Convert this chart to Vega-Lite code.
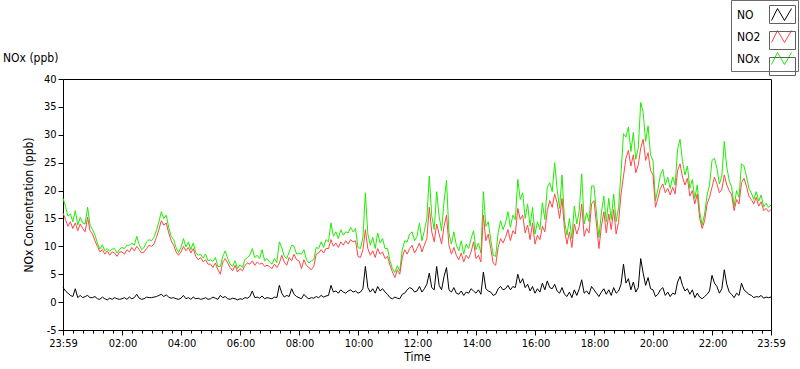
{
"$schema": "https://vega.github.io/schema/vega-lite/v6.json",
"width": 708, "height": 251,
"autosize": {"type": "none"},
"padding": {"left": 63, "top": 79, "right": 29, "bottom": 39},
"background": "white",
"config": {"view": {"stroke": "#000000", "strokeWidth": 1}, "font": "DejaVu Sans Condensed, DejaVu Sans, sans-serif"},
"title": {"text": "NOx (ppb)", "anchor": "start", "frame": "group", "dx": -60, "offset": -65, "fontSize": 12, "fontWeight": "normal", "color": "#000000"},
"layer": [
{
"data": {"values": [
{"t":"2024-01-01T23:59","NO2":16.0,"NO":2.6,"NOx":18.6},
{"t":"2024-01-02T00:04","NO2":14.8,"NO":2.0,"NOx":17.2},
{"t":"2024-01-02T00:09","NO2":13.6,"NO":1.6,"NOx":15.4},
{"t":"2024-01-02T00:14","NO2":14.4,"NO":1.2,"NOx":15.8},
{"t":"2024-01-02T00:19","NO2":13.2,"NO":1.0,"NOx":14.4},
{"t":"2024-01-02T00:24","NO2":14.2,"NO":2.4,"NOx":16.4},
{"t":"2024-01-02T00:29","NO2":12.8,"NO":0.8,"NOx":13.8},
{"t":"2024-01-02T00:34","NO2":14.0,"NO":1.2,"NOx":15.2},
{"t":"2024-01-02T00:39","NO2":13.2,"NO":0.8,"NOx":14.2},
{"t":"2024-01-02T00:44","NO2":12.6,"NO":1.0,"NOx":14.0},
{"t":"2024-01-02T00:49","NO2":15.2,"NO":1.2,"NOx":17.0},
{"t":"2024-01-02T00:54","NO2":12.8,"NO":0.8,"NOx":13.8},
{"t":"2024-01-02T00:59","NO2":12.2,"NO":0.8,"NOx":13.0},
{"t":"2024-01-02T01:04","NO2":11.0,"NO":1.0,"NOx":12.0},
{"t":"2024-01-02T01:09","NO2":10.0,"NO":0.6,"NOx":10.6},
{"t":"2024-01-02T01:14","NO2":9.0,"NO":0.5,"NOx":9.5},
{"t":"2024-01-02T01:19","NO2":9.4,"NO":0.9,"NOx":10.3},
{"t":"2024-01-02T01:24","NO2":8.6,"NO":0.6,"NOx":9.2},
{"t":"2024-01-02T01:29","NO2":9.2,"NO":0.4,"NOx":9.6},
{"t":"2024-01-02T01:34","NO2":8.4,"NO":0.7,"NOx":9.1},
{"t":"2024-01-02T01:39","NO2":9.0,"NO":0.5,"NOx":9.5},
{"t":"2024-01-02T01:44","NO2":8.8,"NO":0.8,"NOx":9.6},
{"t":"2024-01-02T01:49","NO2":8.2,"NO":0.6,"NOx":8.8},
{"t":"2024-01-02T01:54","NO2":9.0,"NO":0.5,"NOx":9.5},
{"t":"2024-01-02T01:59","NO2":9.0,"NO":0.6,"NOx":9.8},
{"t":"2024-01-02T02:04","NO2":8.6,"NO":0.8,"NOx":9.6},
{"t":"2024-01-02T02:09","NO2":9.4,"NO":0.5,"NOx":10.2},
{"t":"2024-01-02T02:14","NO2":9.0,"NO":0.9,"NOx":10.2},
{"t":"2024-01-02T02:19","NO2":9.8,"NO":0.6,"NOx":10.6},
{"t":"2024-01-02T02:24","NO2":9.2,"NO":0.8,"NOx":10.2},
{"t":"2024-01-02T02:29","NO2":10.0,"NO":1.4,"NOx":11.8},
{"t":"2024-01-02T02:34","NO2":9.4,"NO":0.7,"NOx":10.3},
{"t":"2024-01-02T02:39","NO2":8.8,"NO":0.5,"NOx":9.4},
{"t":"2024-01-02T02:44","NO2":9.0,"NO":0.6,"NOx":9.8},
{"t":"2024-01-02T02:49","NO2":9.6,"NO":0.9,"NOx":10.8},
{"t":"2024-01-02T02:54","NO2":10.2,"NO":0.8,"NOx":11.2},
{"t":"2024-01-02T02:59","NO2":10.0,"NO":0.8,"NOx":11.0},
{"t":"2024-01-02T03:04","NO2":10.4,"NO":0.9,"NOx":11.6},
{"t":"2024-01-02T03:09","NO2":11.6,"NO":1.0,"NOx":12.8},
{"t":"2024-01-02T03:14","NO2":13.0,"NO":1.2,"NOx":14.4},
{"t":"2024-01-02T03:19","NO2":14.6,"NO":1.4,"NOx":16.2},
{"t":"2024-01-02T03:24","NO2":13.8,"NO":1.0,"NOx":15.0},
{"t":"2024-01-02T03:29","NO2":14.2,"NO":1.3,"NOx":15.6},
{"t":"2024-01-02T03:34","NO2":12.4,"NO":0.9,"NOx":13.4},
{"t":"2024-01-02T03:39","NO2":11.0,"NO":0.7,"NOx":11.8},
{"t":"2024-01-02T03:44","NO2":10.2,"NO":0.8,"NOx":11.2},
{"t":"2024-01-02T03:49","NO2":9.0,"NO":0.6,"NOx":9.8},
{"t":"2024-01-02T03:54","NO2":8.4,"NO":0.5,"NOx":8.9},
{"t":"2024-01-02T03:59","NO2":9.0,"NO":0.7,"NOx":9.8},
{"t":"2024-01-02T04:04","NO2":10.0,"NO":1.2,"NOx":11.4},
{"t":"2024-01-02T04:09","NO2":9.2,"NO":0.6,"NOx":9.9},
{"t":"2024-01-02T04:14","NO2":9.8,"NO":0.8,"NOx":10.8},
{"t":"2024-01-02T04:19","NO2":8.8,"NO":0.5,"NOx":9.4},
{"t":"2024-01-02T04:24","NO2":9.6,"NO":0.9,"NOx":10.6},
{"t":"2024-01-02T04:29","NO2":8.2,"NO":0.6,"NOx":8.9},
{"t":"2024-01-02T04:34","NO2":7.6,"NO":0.7,"NOx":8.4},
{"t":"2024-01-02T04:39","NO2":8.0,"NO":0.5,"NOx":8.6},
{"t":"2024-01-02T04:44","NO2":7.2,"NO":0.6,"NOx":7.9},
{"t":"2024-01-02T04:49","NO2":7.6,"NO":0.8,"NOx":8.6},
{"t":"2024-01-02T04:54","NO2":6.8,"NO":0.5,"NOx":7.4},
{"t":"2024-01-02T04:59","NO2":6.8,"NO":0.6,"NOx":7.6},
{"t":"2024-01-02T05:04","NO2":6.2,"NO":0.9,"NOx":7.3},
{"t":"2024-01-02T05:09","NO2":7.0,"NO":0.7,"NOx":8.0},
{"t":"2024-01-02T05:14","NO2":5.8,"NO":0.5,"NOx":6.4},
{"t":"2024-01-02T05:19","NO2":5.0,"NO":1.2,"NOx":6.4},
{"t":"2024-01-02T05:24","NO2":7.2,"NO":0.8,"NOx":8.2},
{"t":"2024-01-02T05:29","NO2":7.8,"NO":1.0,"NOx":9.2},
{"t":"2024-01-02T05:34","NO2":7.0,"NO":0.6,"NOx":7.8},
{"t":"2024-01-02T05:39","NO2":6.2,"NO":0.5,"NOx":6.8},
{"t":"2024-01-02T05:44","NO2":5.6,"NO":0.7,"NOx":6.4},
{"t":"2024-01-02T05:49","NO2":6.6,"NO":0.6,"NOx":7.4},
{"t":"2024-01-02T05:54","NO2":5.4,"NO":0.4,"NOx":6.0},
{"t":"2024-01-02T05:59","NO2":6.0,"NO":0.6,"NOx":6.7},
{"t":"2024-01-02T06:04","NO2":5.6,"NO":0.5,"NOx":6.2},
{"t":"2024-01-02T06:09","NO2":6.6,"NO":0.8,"NOx":7.6},
{"t":"2024-01-02T06:14","NO2":7.0,"NO":0.7,"NOx":8.0},
{"t":"2024-01-02T06:19","NO2":6.8,"NO":1.0,"NOx":8.4},
{"t":"2024-01-02T06:24","NO2":7.4,"NO":2.0,"NOx":9.6},
{"t":"2024-01-02T06:29","NO2":6.6,"NO":0.8,"NOx":8.0},
{"t":"2024-01-02T06:34","NO2":7.2,"NO":0.9,"NOx":8.4},
{"t":"2024-01-02T06:39","NO2":6.8,"NO":0.7,"NOx":7.8},
{"t":"2024-01-02T06:44","NO2":7.0,"NO":1.1,"NOx":9.4},
{"t":"2024-01-02T06:49","NO2":6.4,"NO":0.6,"NOx":7.4},
{"t":"2024-01-02T06:54","NO2":6.6,"NO":0.8,"NOx":7.8},
{"t":"2024-01-02T06:59","NO2":6.4,"NO":0.7,"NOx":7.2},
{"t":"2024-01-02T07:04","NO2":6.0,"NO":0.6,"NOx":6.8},
{"t":"2024-01-02T07:09","NO2":6.8,"NO":0.9,"NOx":7.8},
{"t":"2024-01-02T07:14","NO2":6.2,"NO":0.8,"NOx":7.1},
{"t":"2024-01-02T07:19","NO2":7.0,"NO":3.0,"NOx":10.8},
{"t":"2024-01-02T07:24","NO2":8.4,"NO":1.6,"NOx":9.8},
{"t":"2024-01-02T07:29","NO2":7.2,"NO":0.9,"NOx":8.2},
{"t":"2024-01-02T07:34","NO2":6.6,"NO":1.2,"NOx":7.8},
{"t":"2024-01-02T07:39","NO2":8.0,"NO":1.0,"NOx":9.0},
{"t":"2024-01-02T07:44","NO2":7.4,"NO":2.4,"NOx":10.2},
{"t":"2024-01-02T07:49","NO2":8.6,"NO":1.4,"NOx":10.0},
{"t":"2024-01-02T07:54","NO2":7.6,"NO":1.0,"NOx":8.6},
{"t":"2024-01-02T07:59","NO2":7.4,"NO":0.8,"NOx":8.8},
{"t":"2024-01-02T08:04","NO2":6.0,"NO":0.6,"NOx":8.6},
{"t":"2024-01-02T08:09","NO2":7.6,"NO":1.4,"NOx":9.4},
{"t":"2024-01-02T08:14","NO2":6.6,"NO":0.9,"NOx":7.6},
{"t":"2024-01-02T08:19","NO2":6.2,"NO":0.6,"NOx":7.0},
{"t":"2024-01-02T08:24","NO2":5.8,"NO":0.8,"NOx":7.4},
{"t":"2024-01-02T08:29","NO2":6.4,"NO":0.7,"NOx":7.6},
{"t":"2024-01-02T08:34","NO2":8.6,"NO":1.0,"NOx":9.8},
{"t":"2024-01-02T08:39","NO2":8.8,"NO":0.8,"NOx":9.6},
{"t":"2024-01-02T08:44","NO2":9.4,"NO":1.2,"NOx":10.8},
{"t":"2024-01-02T08:49","NO2":8.8,"NO":0.9,"NOx":9.8},
{"t":"2024-01-02T08:54","NO2":9.6,"NO":1.1,"NOx":11.2},
{"t":"2024-01-02T08:59","NO2":9.6,"NO":1.2,"NOx":10.8},
{"t":"2024-01-02T09:04","NO2":11.2,"NO":3.0,"NOx":14.2},
{"t":"2024-01-02T09:09","NO2":10.0,"NO":1.8,"NOx":11.8},
{"t":"2024-01-02T09:14","NO2":10.6,"NO":2.0,"NOx":12.6},
{"t":"2024-01-02T09:19","NO2":9.8,"NO":1.6,"NOx":11.4},
{"t":"2024-01-02T09:24","NO2":10.8,"NO":2.2,"NOx":13.0},
{"t":"2024-01-02T09:29","NO2":10.2,"NO":1.8,"NOx":12.0},
{"t":"2024-01-02T09:34","NO2":11.0,"NO":1.6,"NOx":12.6},
{"t":"2024-01-02T09:39","NO2":10.4,"NO":2.0,"NOx":12.4},
{"t":"2024-01-02T09:44","NO2":11.2,"NO":2.2,"NOx":13.4},
{"t":"2024-01-02T09:49","NO2":10.8,"NO":1.8,"NOx":12.6},
{"t":"2024-01-02T09:54","NO2":11.0,"NO":2.0,"NOx":13.2},
{"t":"2024-01-02T09:59","NO2":8.2,"NO":1.6,"NOx":9.8},
{"t":"2024-01-02T10:04","NO2":8.0,"NO":1.8,"NOx":9.6},
{"t":"2024-01-02T10:09","NO2":9.4,"NO":2.4,"NOx":11.6},
{"t":"2024-01-02T10:14","NO2":13.0,"NO":6.4,"NOx":19.6},
{"t":"2024-01-02T10:19","NO2":9.6,"NO":2.6,"NOx":12.2},
{"t":"2024-01-02T10:24","NO2":8.4,"NO":1.8,"NOx":10.2},
{"t":"2024-01-02T10:29","NO2":9.2,"NO":2.4,"NOx":11.6},
{"t":"2024-01-02T10:34","NO2":8.0,"NO":1.6,"NOx":9.6},
{"t":"2024-01-02T10:39","NO2":9.6,"NO":2.8,"NOx":12.4},
{"t":"2024-01-02T10:44","NO2":8.6,"NO":2.0,"NOx":10.6},
{"t":"2024-01-02T10:49","NO2":9.0,"NO":2.4,"NOx":11.4},
{"t":"2024-01-02T10:54","NO2":7.8,"NO":1.8,"NOx":9.6},
{"t":"2024-01-02T10:59","NO2":8.2,"NO":1.4,"NOx":9.6},
{"t":"2024-01-02T11:04","NO2":6.6,"NO":0.8,"NOx":7.4},
{"t":"2024-01-02T11:09","NO2":5.4,"NO":0.6,"NOx":6.0},
{"t":"2024-01-02T11:14","NO2":4.4,"NO":0.9,"NOx":5.3},
{"t":"2024-01-02T11:19","NO2":5.8,"NO":0.7,"NOx":6.5},
{"t":"2024-01-02T11:24","NO2":5.0,"NO":0.6,"NOx":5.6},
{"t":"2024-01-02T11:29","NO2":8.0,"NO":1.4,"NOx":9.4},
{"t":"2024-01-02T11:34","NO2":9.4,"NO":1.6,"NOx":11.0},
{"t":"2024-01-02T11:39","NO2":8.6,"NO":2.2,"NOx":10.8},
{"t":"2024-01-02T11:44","NO2":9.6,"NO":2.6,"NOx":12.2},
{"t":"2024-01-02T11:49","NO2":10.2,"NO":2.4,"NOx":12.6},
{"t":"2024-01-02T11:54","NO2":8.8,"NO":1.8,"NOx":11.0},
{"t":"2024-01-02T11:59","NO2":9.6,"NO":2.0,"NOx":11.8},
{"t":"2024-01-02T12:04","NO2":10.6,"NO":2.8,"NOx":14.2},
{"t":"2024-01-02T12:09","NO2":9.0,"NO":1.8,"NOx":11.0},
{"t":"2024-01-02T12:14","NO2":10.2,"NO":2.4,"NOx":12.8},
{"t":"2024-01-02T12:19","NO2":11.4,"NO":3.2,"NOx":15.0},
{"t":"2024-01-02T12:24","NO2":17.0,"NO":5.2,"NOx":22.6},
{"t":"2024-01-02T12:29","NO2":12.6,"NO":2.6,"NOx":15.4},
{"t":"2024-01-02T12:34","NO2":10.8,"NO":2.2,"NOx":13.0},
{"t":"2024-01-02T12:39","NO2":14.0,"NO":6.4,"NOx":19.8},
{"t":"2024-01-02T12:44","NO2":12.2,"NO":3.0,"NOx":15.4},
{"t":"2024-01-02T12:49","NO2":10.4,"NO":2.2,"NOx":12.8},
{"t":"2024-01-02T12:54","NO2":13.6,"NO":4.6,"NOx":18.0},
{"t":"2024-01-02T12:59","NO2":15.6,"NO":6.2,"NOx":21.8},
{"t":"2024-01-02T13:04","NO2":10.2,"NO":2.2,"NOx":12.4},
{"t":"2024-01-02T13:09","NO2":8.6,"NO":1.8,"NOx":10.4},
{"t":"2024-01-02T13:14","NO2":9.8,"NO":2.6,"NOx":12.6},
{"t":"2024-01-02T13:19","NO2":8.4,"NO":1.6,"NOx":10.2},
{"t":"2024-01-02T13:24","NO2":7.6,"NO":1.4,"NOx":9.2},
{"t":"2024-01-02T13:29","NO2":8.8,"NO":2.0,"NOx":11.0},
{"t":"2024-01-02T13:34","NO2":7.2,"NO":1.2,"NOx":8.6},
{"t":"2024-01-02T13:39","NO2":8.4,"NO":1.8,"NOx":10.4},
{"t":"2024-01-02T13:44","NO2":7.8,"NO":1.6,"NOx":9.6},
{"t":"2024-01-02T13:49","NO2":9.0,"NO":2.4,"NOx":11.4},
{"t":"2024-01-02T13:54","NO2":10.8,"NO":2.0,"NOx":12.8},
{"t":"2024-01-02T13:59","NO2":7.8,"NO":1.6,"NOx":9.4},
{"t":"2024-01-02T14:04","NO2":8.4,"NO":2.2,"NOx":10.6},
{"t":"2024-01-02T14:09","NO2":7.2,"NO":1.4,"NOx":8.8},
{"t":"2024-01-02T14:14","NO2":15.6,"NO":5.4,"NOx":19.8},
{"t":"2024-01-02T14:19","NO2":11.0,"NO":2.4,"NOx":13.6},
{"t":"2024-01-02T14:24","NO2":12.2,"NO":2.0,"NOx":14.4},
{"t":"2024-01-02T14:29","NO2":9.6,"NO":1.8,"NOx":11.2},
{"t":"2024-01-02T14:34","NO2":7.0,"NO":1.2,"NOx":8.4},
{"t":"2024-01-02T14:39","NO2":6.6,"NO":1.4,"NOx":8.2},
{"t":"2024-01-02T14:44","NO2":9.8,"NO":2.4,"NOx":12.4},
{"t":"2024-01-02T14:49","NO2":11.4,"NO":2.8,"NOx":14.6},
{"t":"2024-01-02T14:54","NO2":10.6,"NO":2.2,"NOx":13.0},
{"t":"2024-01-02T14:59","NO2":11.6,"NO":2.4,"NOx":14.2},
{"t":"2024-01-02T15:04","NO2":13.0,"NO":3.0,"NOx":16.2},
{"t":"2024-01-02T15:09","NO2":11.0,"NO":2.2,"NOx":13.4},
{"t":"2024-01-02T15:14","NO2":12.8,"NO":2.8,"NOx":15.6},
{"t":"2024-01-02T15:19","NO2":12.2,"NO":2.6,"NOx":14.8},
{"t":"2024-01-02T15:24","NO2":16.8,"NO":5.0,"NOx":22.0},
{"t":"2024-01-02T15:29","NO2":14.8,"NO":3.4,"NOx":18.4},
{"t":"2024-01-02T15:34","NO2":15.6,"NO":4.2,"NOx":19.6},
{"t":"2024-01-02T15:39","NO2":12.4,"NO":2.6,"NOx":15.0},
{"t":"2024-01-02T15:44","NO2":13.8,"NO":3.2,"NOx":17.6},
{"t":"2024-01-02T15:49","NO2":11.2,"NO":2.0,"NOx":13.6},
{"t":"2024-01-02T15:54","NO2":14.2,"NO":2.8,"NOx":17.0},
{"t":"2024-01-02T15:59","NO2":10.4,"NO":1.6,"NOx":12.2},
{"t":"2024-01-02T16:04","NO2":12.0,"NO":2.4,"NOx":14.4},
{"t":"2024-01-02T16:09","NO2":11.2,"NO":1.8,"NOx":13.0},
{"t":"2024-01-02T16:14","NO2":13.6,"NO":3.4,"NOx":17.8},
{"t":"2024-01-02T16:19","NO2":12.6,"NO":2.2,"NOx":14.8},
{"t":"2024-01-02T16:24","NO2":16.4,"NO":3.8,"NOx":20.6},
{"t":"2024-01-02T16:29","NO2":18.2,"NO":2.6,"NOx":21.4},
{"t":"2024-01-02T16:34","NO2":17.0,"NO":2.4,"NOx":19.8},
{"t":"2024-01-02T16:39","NO2":19.4,"NO":3.2,"NOx":25.0},
{"t":"2024-01-02T16:44","NO2":17.8,"NO":2.0,"NOx":20.2},
{"t":"2024-01-02T16:49","NO2":15.0,"NO":1.6,"NOx":16.8},
{"t":"2024-01-02T16:54","NO2":18.6,"NO":2.6,"NOx":22.8},
{"t":"2024-01-02T16:59","NO2":13.0,"NO":1.4,"NOx":14.6},
{"t":"2024-01-02T17:04","NO2":10.4,"NO":1.0,"NOx":12.0},
{"t":"2024-01-02T17:09","NO2":12.6,"NO":1.8,"NOx":15.0},
{"t":"2024-01-02T17:14","NO2":9.8,"NO":0.8,"NOx":11.4},
{"t":"2024-01-02T17:19","NO2":14.0,"NO":2.2,"NOx":17.2},
{"t":"2024-01-02T17:24","NO2":12.2,"NO":1.2,"NOx":14.0},
{"t":"2024-01-02T17:29","NO2":13.6,"NO":2.4,"NOx":16.4},
{"t":"2024-01-02T17:34","NO2":17.6,"NO":4.0,"NOx":23.0},
{"t":"2024-01-02T17:39","NO2":11.8,"NO":1.6,"NOx":14.0},
{"t":"2024-01-02T17:44","NO2":13.2,"NO":2.0,"NOx":16.0},
{"t":"2024-01-02T17:49","NO2":12.4,"NO":1.4,"NOx":14.4},
{"t":"2024-01-02T17:54","NO2":17.6,"NO":2.8,"NOx":20.8},
{"t":"2024-01-02T17:59","NO2":18.2,"NO":2.2,"NOx":20.8},
{"t":"2024-01-02T18:04","NO2":14.0,"NO":1.6,"NOx":16.0},
{"t":"2024-01-02T18:09","NO2":9.6,"NO":1.0,"NOx":11.6},
{"t":"2024-01-02T18:14","NO2":13.6,"NO":1.8,"NOx":16.0},
{"t":"2024-01-02T18:19","NO2":16.2,"NO":2.4,"NOx":19.0},
{"t":"2024-01-02T18:24","NO2":12.4,"NO":1.4,"NOx":14.4},
{"t":"2024-01-02T18:29","NO2":15.8,"NO":2.2,"NOx":18.6},
{"t":"2024-01-02T18:34","NO2":13.0,"NO":1.2,"NOx":14.8},
{"t":"2024-01-02T18:39","NO2":16.6,"NO":2.6,"NOx":19.4},
{"t":"2024-01-02T18:44","NO2":12.2,"NO":1.6,"NOx":14.4},
{"t":"2024-01-02T18:49","NO2":14.4,"NO":2.0,"NOx":17.0},
{"t":"2024-01-02T18:54","NO2":19.4,"NO":3.2,"NOx":23.2},
{"t":"2024-01-02T18:59","NO2":22.6,"NO":6.8,"NOx":30.2},
{"t":"2024-01-02T19:04","NO2":25.8,"NO":3.4,"NOx":29.6},
{"t":"2024-01-02T19:09","NO2":27.2,"NO":4.2,"NOx":31.4},
{"t":"2024-01-02T19:14","NO2":24.4,"NO":2.2,"NOx":27.0},
{"t":"2024-01-02T19:19","NO2":26.4,"NO":3.6,"NOx":30.4},
{"t":"2024-01-02T19:24","NO2":23.2,"NO":1.8,"NOx":25.6},
{"t":"2024-01-02T19:29","NO2":24.6,"NO":2.6,"NOx":27.6},
{"t":"2024-01-02T19:34","NO2":27.6,"NO":7.8,"NOx":35.8},
{"t":"2024-01-02T19:39","NO2":29.2,"NO":5.2,"NOx":34.0},
{"t":"2024-01-02T19:44","NO2":25.4,"NO":3.0,"NOx":28.8},
{"t":"2024-01-02T19:49","NO2":26.8,"NO":4.4,"NOx":31.6},
{"t":"2024-01-02T19:54","NO2":23.6,"NO":2.4,"NOx":26.4},
{"t":"2024-01-02T19:59","NO2":22.8,"NO":2.2,"NOx":25.4},
{"t":"2024-01-02T20:04","NO2":17.0,"NO":1.0,"NOx":18.2},
{"t":"2024-01-02T20:09","NO2":18.6,"NO":1.4,"NOx":20.2},
{"t":"2024-01-02T20:14","NO2":20.4,"NO":2.2,"NOx":22.8},
{"t":"2024-01-02T20:19","NO2":21.2,"NO":2.6,"NOx":23.8},
{"t":"2024-01-02T20:24","NO2":19.6,"NO":1.2,"NOx":21.0},
{"t":"2024-01-02T20:29","NO2":20.4,"NO":1.8,"NOx":22.4},
{"t":"2024-01-02T20:34","NO2":19.2,"NO":1.0,"NOx":20.4},
{"t":"2024-01-02T20:39","NO2":20.6,"NO":1.6,"NOx":22.4},
{"t":"2024-01-02T20:44","NO2":19.4,"NO":1.4,"NOx":21.0},
{"t":"2024-01-02T20:49","NO2":23.6,"NO":3.6,"NOx":27.4},
{"t":"2024-01-02T20:54","NO2":24.8,"NO":4.6,"NOx":29.2},
{"t":"2024-01-02T20:59","NO2":22.4,"NO":3.0,"NOx":25.2},
{"t":"2024-01-02T21:04","NO2":21.0,"NO":2.0,"NOx":22.8},
{"t":"2024-01-02T21:09","NO2":22.2,"NO":2.4,"NOx":24.4},
{"t":"2024-01-02T21:14","NO2":19.0,"NO":1.4,"NOx":20.4},
{"t":"2024-01-02T21:19","NO2":20.0,"NO":2.2,"NOx":22.0},
{"t":"2024-01-02T21:24","NO2":17.6,"NO":0.8,"NOx":18.6},
{"t":"2024-01-02T21:29","NO2":19.4,"NO":1.6,"NOx":21.0},
{"t":"2024-01-02T21:34","NO2":15.0,"NO":0.9,"NOx":16.2},
{"t":"2024-01-02T21:39","NO2":13.2,"NO":0.6,"NOx":13.8},
{"t":"2024-01-02T21:44","NO2":14.6,"NO":1.0,"NOx":15.8},
{"t":"2024-01-02T21:49","NO2":17.6,"NO":1.4,"NOx":19.2},
{"t":"2024-01-02T21:54","NO2":18.8,"NO":2.0,"NOx":21.0},
{"t":"2024-01-02T21:59","NO2":20.6,"NO":4.8,"NOx":25.4},
{"t":"2024-01-02T22:04","NO2":22.4,"NO":3.4,"NOx":25.8},
{"t":"2024-01-02T22:09","NO2":21.2,"NO":2.8,"NOx":24.0},
{"t":"2024-01-02T22:14","NO2":19.6,"NO":1.6,"NOx":21.2},
{"t":"2024-01-02T22:19","NO2":20.2,"NO":2.4,"NOx":22.6},
{"t":"2024-01-02T22:24","NO2":22.8,"NO":5.8,"NOx":28.8},
{"t":"2024-01-02T22:29","NO2":21.0,"NO":3.2,"NOx":24.2},
{"t":"2024-01-02T22:34","NO2":20.0,"NO":1.8,"NOx":21.8},
{"t":"2024-01-02T22:39","NO2":19.2,"NO":1.4,"NOx":20.6},
{"t":"2024-01-02T22:44","NO2":16.4,"NO":0.8,"NOx":17.2},
{"t":"2024-01-02T22:49","NO2":18.4,"NO":1.6,"NOx":20.0},
{"t":"2024-01-02T22:54","NO2":17.6,"NO":1.2,"NOx":18.8},
{"t":"2024-01-02T22:59","NO2":21.4,"NO":3.4,"NOx":24.8},
{"t":"2024-01-02T23:04","NO2":22.2,"NO":2.2,"NOx":24.4},
{"t":"2024-01-02T23:09","NO2":20.8,"NO":1.8,"NOx":22.6},
{"t":"2024-01-02T23:14","NO2":19.0,"NO":1.4,"NOx":20.4},
{"t":"2024-01-02T23:19","NO2":18.4,"NO":1.2,"NOx":19.6},
{"t":"2024-01-02T23:24","NO2":17.6,"NO":0.8,"NOx":18.4},
{"t":"2024-01-02T23:29","NO2":18.8,"NO":1.0,"NOx":19.8},
{"t":"2024-01-02T23:34","NO2":17.2,"NO":0.9,"NOx":18.1},
{"t":"2024-01-02T23:39","NO2":18.0,"NO":1.2,"NOx":19.2},
{"t":"2024-01-02T23:44","NO2":16.4,"NO":0.7,"NOx":17.1},
{"t":"2024-01-02T23:49","NO2":16.8,"NO":0.9,"NOx":17.7},
{"t":"2024-01-02T23:54","NO2":16.2,"NO":0.8,"NOx":17.0},
{"t":"2024-01-02T23:59","NO2":16.6,"NO":0.9,"NOx":17.4}
]},
"transform": [{"fold": ["NOx", "NO2", "NO"], "as": ["series", "value"]}],
"mark": {"type": "line", "strokeWidth": 1},
"encoding": {
"x": {"field": "t", "type": "temporal",
 "scale": {"domain": [{"year": 2024, "month": 1, "date": 1, "hours": 23, "minutes": 59}, {"year": 2024, "month": 1, "date": 2, "hours": 23, "minutes": 59}], "nice": false},
 "axis": {"orient": "bottom",
  "values": [
{"year":2024,"month":1,"date":1,"hours":23,"minutes":59},
{"year":2024,"month":1,"date":2,"hours":0,"minutes":20},{"year":2024,"month":1,"date":2,"hours":0,"minutes":40},
{"year":2024,"month":1,"date":2,"hours":1,"minutes":0},{"year":2024,"month":1,"date":2,"hours":1,"minutes":20},{"year":2024,"month":1,"date":2,"hours":1,"minutes":40},
{"year":2024,"month":1,"date":2,"hours":2,"minutes":0},{"year":2024,"month":1,"date":2,"hours":2,"minutes":20},{"year":2024,"month":1,"date":2,"hours":2,"minutes":40},
{"year":2024,"month":1,"date":2,"hours":3,"minutes":0},{"year":2024,"month":1,"date":2,"hours":3,"minutes":20},{"year":2024,"month":1,"date":2,"hours":3,"minutes":40},
{"year":2024,"month":1,"date":2,"hours":4,"minutes":0},{"year":2024,"month":1,"date":2,"hours":4,"minutes":20},{"year":2024,"month":1,"date":2,"hours":4,"minutes":40},
{"year":2024,"month":1,"date":2,"hours":5,"minutes":0},{"year":2024,"month":1,"date":2,"hours":5,"minutes":20},{"year":2024,"month":1,"date":2,"hours":5,"minutes":40},
{"year":2024,"month":1,"date":2,"hours":6,"minutes":0},{"year":2024,"month":1,"date":2,"hours":6,"minutes":20},{"year":2024,"month":1,"date":2,"hours":6,"minutes":40},
{"year":2024,"month":1,"date":2,"hours":7,"minutes":0},{"year":2024,"month":1,"date":2,"hours":7,"minutes":20},{"year":2024,"month":1,"date":2,"hours":7,"minutes":40},
{"year":2024,"month":1,"date":2,"hours":8,"minutes":0},{"year":2024,"month":1,"date":2,"hours":8,"minutes":20},{"year":2024,"month":1,"date":2,"hours":8,"minutes":40},
{"year":2024,"month":1,"date":2,"hours":9,"minutes":0},{"year":2024,"month":1,"date":2,"hours":9,"minutes":20},{"year":2024,"month":1,"date":2,"hours":9,"minutes":40},
{"year":2024,"month":1,"date":2,"hours":10,"minutes":0},{"year":2024,"month":1,"date":2,"hours":10,"minutes":20},{"year":2024,"month":1,"date":2,"hours":10,"minutes":40},
{"year":2024,"month":1,"date":2,"hours":11,"minutes":0},{"year":2024,"month":1,"date":2,"hours":11,"minutes":20},{"year":2024,"month":1,"date":2,"hours":11,"minutes":40},
{"year":2024,"month":1,"date":2,"hours":12,"minutes":0},{"year":2024,"month":1,"date":2,"hours":12,"minutes":20},{"year":2024,"month":1,"date":2,"hours":12,"minutes":40},
{"year":2024,"month":1,"date":2,"hours":13,"minutes":0},{"year":2024,"month":1,"date":2,"hours":13,"minutes":20},{"year":2024,"month":1,"date":2,"hours":13,"minutes":40},
{"year":2024,"month":1,"date":2,"hours":14,"minutes":0},{"year":2024,"month":1,"date":2,"hours":14,"minutes":20},{"year":2024,"month":1,"date":2,"hours":14,"minutes":40},
{"year":2024,"month":1,"date":2,"hours":15,"minutes":0},{"year":2024,"month":1,"date":2,"hours":15,"minutes":20},{"year":2024,"month":1,"date":2,"hours":15,"minutes":40},
{"year":2024,"month":1,"date":2,"hours":16,"minutes":0},{"year":2024,"month":1,"date":2,"hours":16,"minutes":20},{"year":2024,"month":1,"date":2,"hours":16,"minutes":40},
{"year":2024,"month":1,"date":2,"hours":17,"minutes":0},{"year":2024,"month":1,"date":2,"hours":17,"minutes":20},{"year":2024,"month":1,"date":2,"hours":17,"minutes":40},
{"year":2024,"month":1,"date":2,"hours":18,"minutes":0},{"year":2024,"month":1,"date":2,"hours":18,"minutes":20},{"year":2024,"month":1,"date":2,"hours":18,"minutes":40},
{"year":2024,"month":1,"date":2,"hours":19,"minutes":0},{"year":2024,"month":1,"date":2,"hours":19,"minutes":20},{"year":2024,"month":1,"date":2,"hours":19,"minutes":40},
{"year":2024,"month":1,"date":2,"hours":20,"minutes":0},{"year":2024,"month":1,"date":2,"hours":20,"minutes":20},{"year":2024,"month":1,"date":2,"hours":20,"minutes":40},
{"year":2024,"month":1,"date":2,"hours":21,"minutes":0},{"year":2024,"month":1,"date":2,"hours":21,"minutes":20},{"year":2024,"month":1,"date":2,"hours":21,"minutes":40},
{"year":2024,"month":1,"date":2,"hours":22,"minutes":0},{"year":2024,"month":1,"date":2,"hours":22,"minutes":20},{"year":2024,"month":1,"date":2,"hours":22,"minutes":40},
{"year":2024,"month":1,"date":2,"hours":23,"minutes":0},{"year":2024,"month":1,"date":2,"hours":23,"minutes":20},{"year":2024,"month":1,"date":2,"hours":23,"minutes":40},
{"year":2024,"month":1,"date":2,"hours":23,"minutes":59}],
  "labelExpr": "minutes(datum.value) == 59 ? '23:59' : (minutes(datum.value) == 0 && hours(datum.value) % 2 == 0 ? timeFormat(datum.value, '%H:%M') : '')",
  "labelFlush": false, "labelOverlap": false, "grid": false,
  "tickSize": {"condition": {"test": "minutes(datum.value) == 59 || (minutes(datum.value) == 0 && hours(datum.value) % 2 == 0)", "value": 5}, "value": 3},
  "tickColor": "#000000", "domainColor": "#000000",
  "labelFontSize": 11, "labelColor": "#000000", "labelPadding": 2,
  "title": "Time", "titleFontSize": 12, "titleFontWeight": "normal", "titleColor": "#000000", "titlePadding": 3}},
"y": {"field": "value", "type": "quantitative",
 "scale": {"domain": [-5, 40], "nice": false, "zero": false},
 "axis": {"values": [-5, 0, 5, 10, 15, 20, 25, 30, 35, 40], "grid": false,
  "tickSize": 5, "tickColor": "#000000", "domainColor": "#000000",
  "labelFontSize": 11, "labelColor": "#000000", "labelPadding": 2,
  "labelExpr": "replace(datum.label, '\u2212', '-')",
  "title": "NOx Concentration (ppb)", "titleFontSize": 12, "titleFontWeight": "normal", "titleColor": "#000000", "titlePadding": 8}},
"color": {"field": "series", "type": "nominal",
 "scale": {"domain": ["NO", "NO2", "NOx"], "range": ["#000000", "#ff4646", "#1eee00"]},
 "legend": {"orient": "none", "legendX": 668, "legendY": -79, "title": null, "direction": "vertical",
  "padding": 4, "cornerRadius": 0, "strokeColor": "#6a6a6a",
  "symbolType": "M2.6,0.6L3.2,-0.6L3.9,0.6L4.6,-0.6", "symbolSize": 400, "symbolStrokeWidth": 1,
  "rowPadding": 3,
  "labelOffset": -19, "labelFontSize": 12, "labelColor": "#000000"}}
}
},
{
"data": {"values": [{"plot": "NO"}, {"plot": "NO2"}, {"plot": "NOx"}]},
"mark": {"type": "point", "size": 0, "filled": false, "color": "#606060"},
"encoding": {
"shape": {"field": "plot", "type": "nominal",
 "scale": {"domain": ["NOx", "NO2", "NO"], "range": ["M2.4,-0.9H5.0V0.9H2.4Z", "M2.4,-0.9H5.0V0.9H2.4Z", "M2.4,-0.9H5.0V0.9H2.4Z"]},
 "legend": {"orient": "none", "legendX": 668, "legendY": -79, "title": null, "direction": "vertical",
  "padding": 4, "cornerRadius": 0,
  "symbolSize": 400, "symbolStrokeWidth": 1, "symbolStrokeColor": "#606060", "symbolFillColor": "transparent", "symbolOpacity": 1,
  "rowPadding": 3,
  "labelOffset": -19, "labelFontSize": 12, "labelExpr": "''"}}
}
}
]
}
